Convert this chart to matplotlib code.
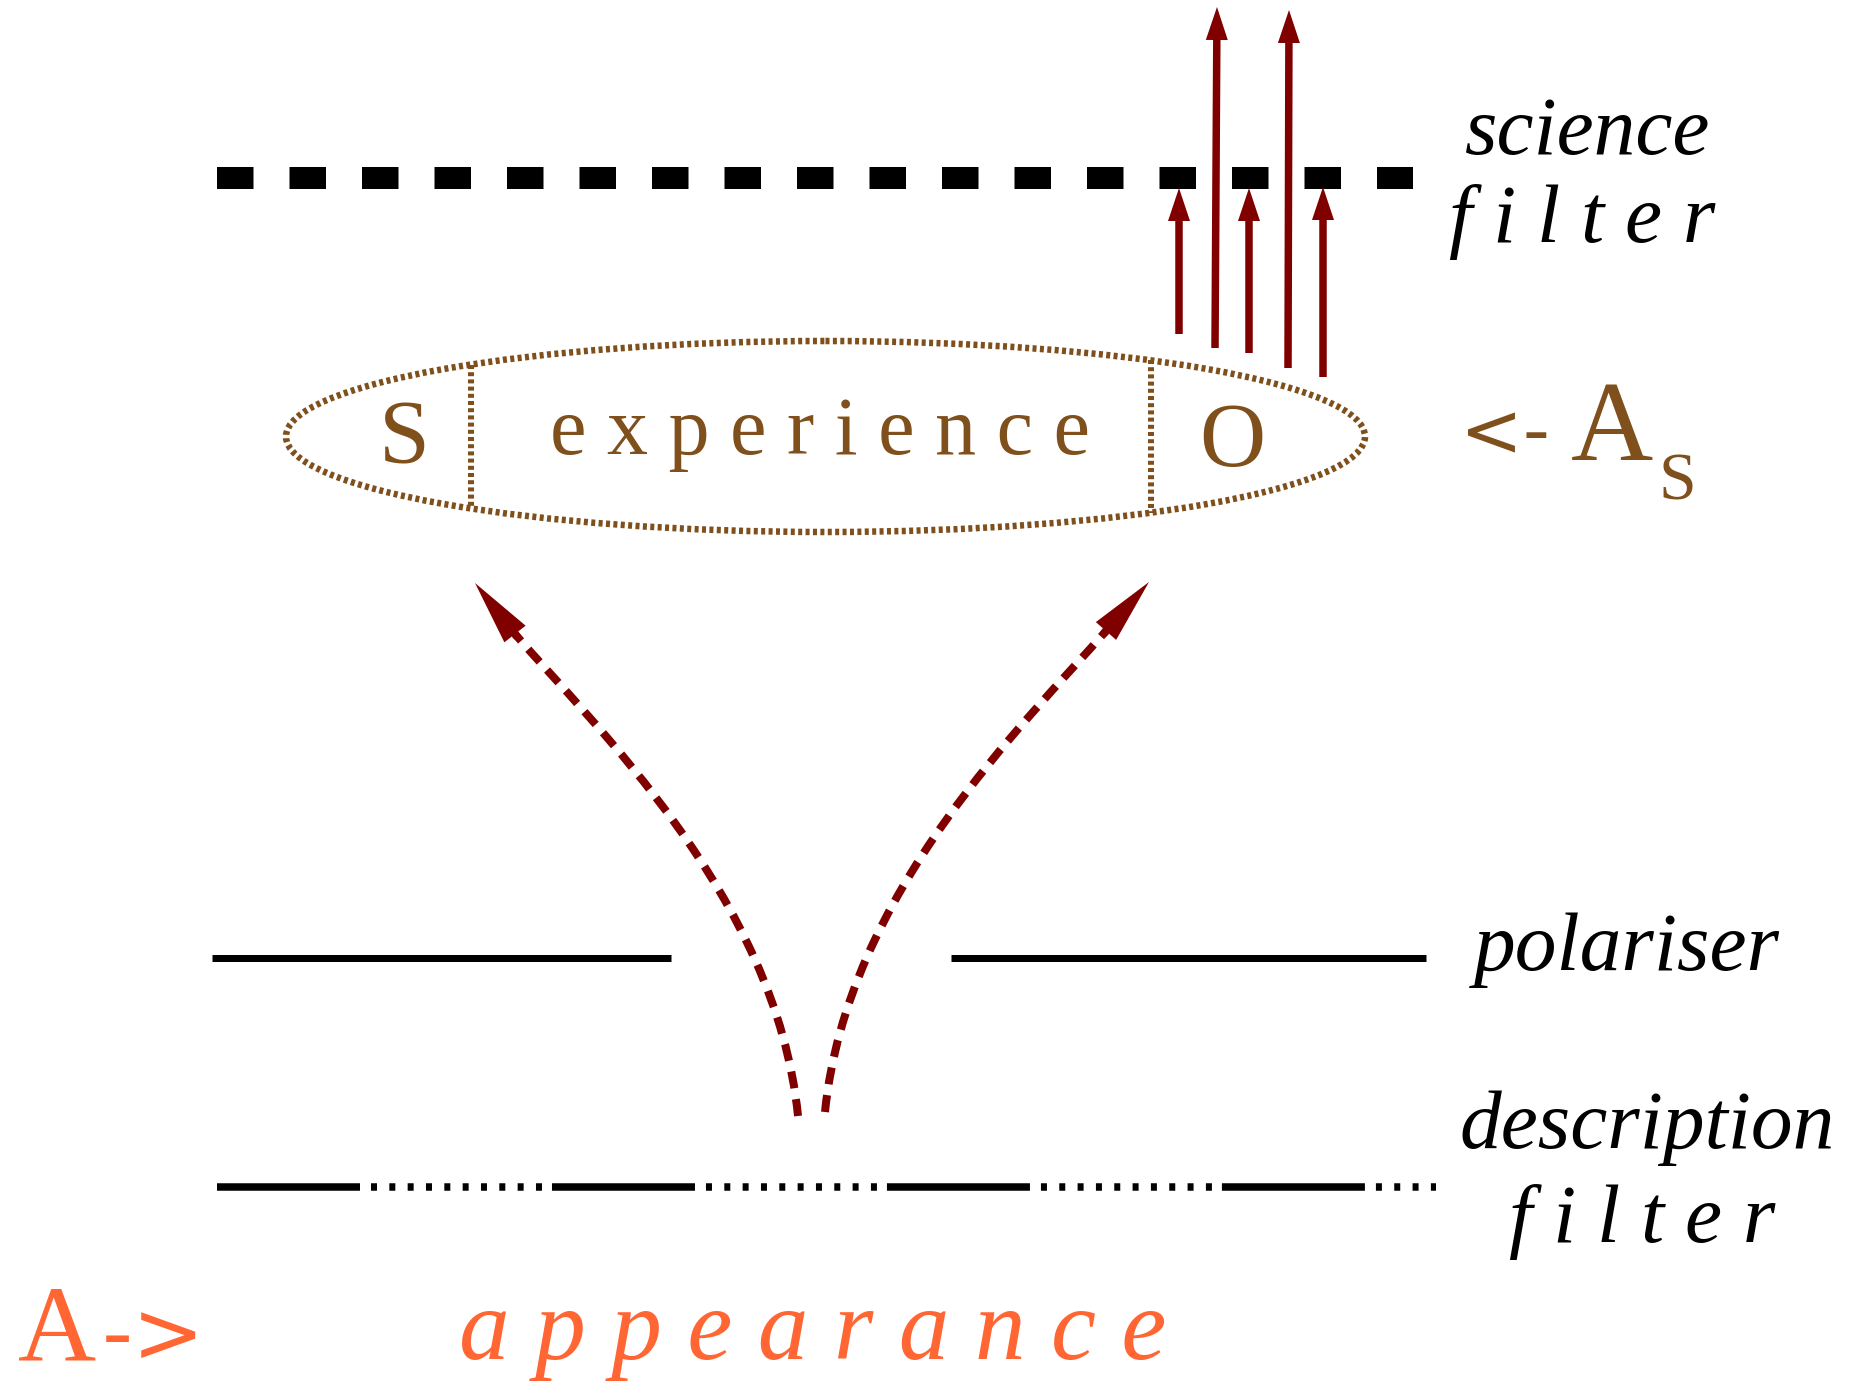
import matplotlib
matplotlib.use("Agg")
import numpy as np
import matplotlib.pyplot as plt
from matplotlib.patches import Ellipse, PathPatch
from matplotlib.path import Path

plt.rcParams['lines.scale_dashes'] = False

W, H, DPI = 1854, 1385, 100
PX = 72 / DPI  # points per pixel

DARK_RED = '#800000'
BROWN = '#7F4F1C'
ORANGE = '#FF6633'
SERIF = ['Liberation Serif', 'DejaVu Serif']
SANS = ['DejaVu Sans']

# ---- texts ----
ellipse_words = ["S", "e x p e r i e n c e", "O"]
side_labels = ["science", "f i l t e r", "polariser", "description", "f i l t e r"]
as_parts = ["<-", "A", "S"]
a_parts = ["A", "->"]
appearance_word = "a p p e a r a n c e"

# ---- up arrows through the science filter: (x_bottom, y_bottom, x_top, y_tip) ----
short_arrows = [(1179, 334, 1179, 188), (1249, 353, 1249, 188), (1323, 377, 1323, 187)]
long_arrows = [(1215, 348, 1217, 7), (1288, 368, 1289, 10)]

fig = plt.figure(figsize=(W / DPI, H / DPI), dpi=DPI)
ax = fig.add_axes([0, 0, 1, 1])
ax.set_xlim(0, W)
ax.set_ylim(H, 0)
ax.axis('off')

# science filter (thick dashed)
ax.plot([217, 1413.5], [178, 178], color='black', lw=22 * PX,
        ls=(0, (36.5 * PX, 36 * PX)), dash_capstyle='butt', solid_capstyle='butt', zorder=1)

# polariser (solid with gap)
for x0, x1 in [(212, 671), (951, 1426)]:
    ax.plot([x0, x1], [958, 958], color='black', lw=7 * PX, solid_capstyle='butt')

# description filter (dash-dot pattern)
desc_pattern = [143, 11] + [6, 12.33] * 9 + [6, 10]
ax.plot([217, 1436], [1187, 1187], color='black', lw=7.5 * PX,
        ls=(0, tuple(v * PX for v in desc_pattern)), dash_capstyle='butt')

# up arrows
for xb, yb, xt, yt in short_arrows + long_arrows:
    ax.arrow(xb, yb, xt - xb, yt - yb, width=7.5, head_width=22, head_length=33,
             length_includes_head=True, color=DARK_RED, lw=0, zorder=3)

# experience ellipse
cx, cy, ew, eh = 825.5, 436.5, 1079, 191
ax.add_patch(Ellipse((cx, cy), ew, eh, fill=False, edgecolor=BROWN, lw=6.5 * PX,
                     ls=(0, (4 * PX, 3.4 * PX)), capstyle='butt'))
for xv in [471, 1151]:
    dy = (eh / 2) * np.sqrt(1 - ((xv - cx) / (ew / 2)) ** 2)
    ax.plot([xv, xv], [cy - dy, cy + dy], color=BROWN, lw=6 * PX,
            ls=(0, (4 * PX, 3.2 * PX)), dash_capstyle='butt')

# curved dashed arrows
curves = [
    [(798, 1116), (776, 896), (593, 725), (515, 634)],
    [(825, 1112), (847, 892), (1027, 721), (1106, 631)],
]
tips = [(475, 583), (1149, 582)]
for pts, tip in zip(curves, tips):
    path = Path(pts, [Path.MOVETO, Path.CURVE4, Path.CURVE4, Path.CURVE4])
    ax.add_patch(PathPatch(path, fill=False, edgecolor=DARK_RED, lw=8 * PX,
                           ls=(0, (17 * PX, 11 * PX)), capstyle='butt'))
    bx, by = pts[-1]
    d = np.array(tip) - np.array([bx, by])
    L = np.hypot(*d)
    u = d / L
    sx, sy = bx - 4 * u[0], by - 4 * u[1]
    ax.arrow(sx, sy, tip[0] - sx, tip[1] - sy, width=8, head_width=27,
             head_length=L, length_includes_head=True, color=DARK_RED, lw=0)

# ellipse words
ax.text(404, 463, ellipse_words[0], family=SERIF, size=66, color=BROWN, ha='center', va='baseline')
ax.text(820, 454, ellipse_words[1], family=SERIF, size=59, color=BROWN, ha='center', va='baseline')
ax.text(1232, 466, ellipse_words[2], family=SERIF, size=66, color=BROWN, ha='center', va='baseline')

# right-side labels
side_pos = [(1588, 154), (1582, 242), (1627, 970), (1647, 1148), (1642, 1242)]
for lab, (x, y) in zip(side_labels, side_pos):
    ax.text(x, y, lab, family=SERIF, style='italic', size=60, color='black',
            ha='center', va='baseline')

# <- A_S
ax.text(1460, 456, as_parts[0], family=SANS, size=54, color=BROWN, ha='left', va='baseline')
ax.text(1612, 460, as_parts[1], family=SERIF, size=82, color=BROWN, ha='center', va='baseline')
ax.text(1677, 499, as_parts[2], family=SERIF, size=49, color=BROWN, ha='center', va='baseline')

# A -> appearance
ax.text(57, 1361, a_parts[0], family=SERIF, size=78, color=ORANGE, ha='center', va='baseline')
ax.text(102, 1362, a_parts[1], family=SANS, size=62, color=ORANGE, ha='left', va='baseline')
ax.text(813, 1359, appearance_word, family=SERIF, style='italic', size=73, color=ORANGE,
        ha='center', va='baseline')

fig.savefig('out.png', dpi=DPI, facecolor='white')
